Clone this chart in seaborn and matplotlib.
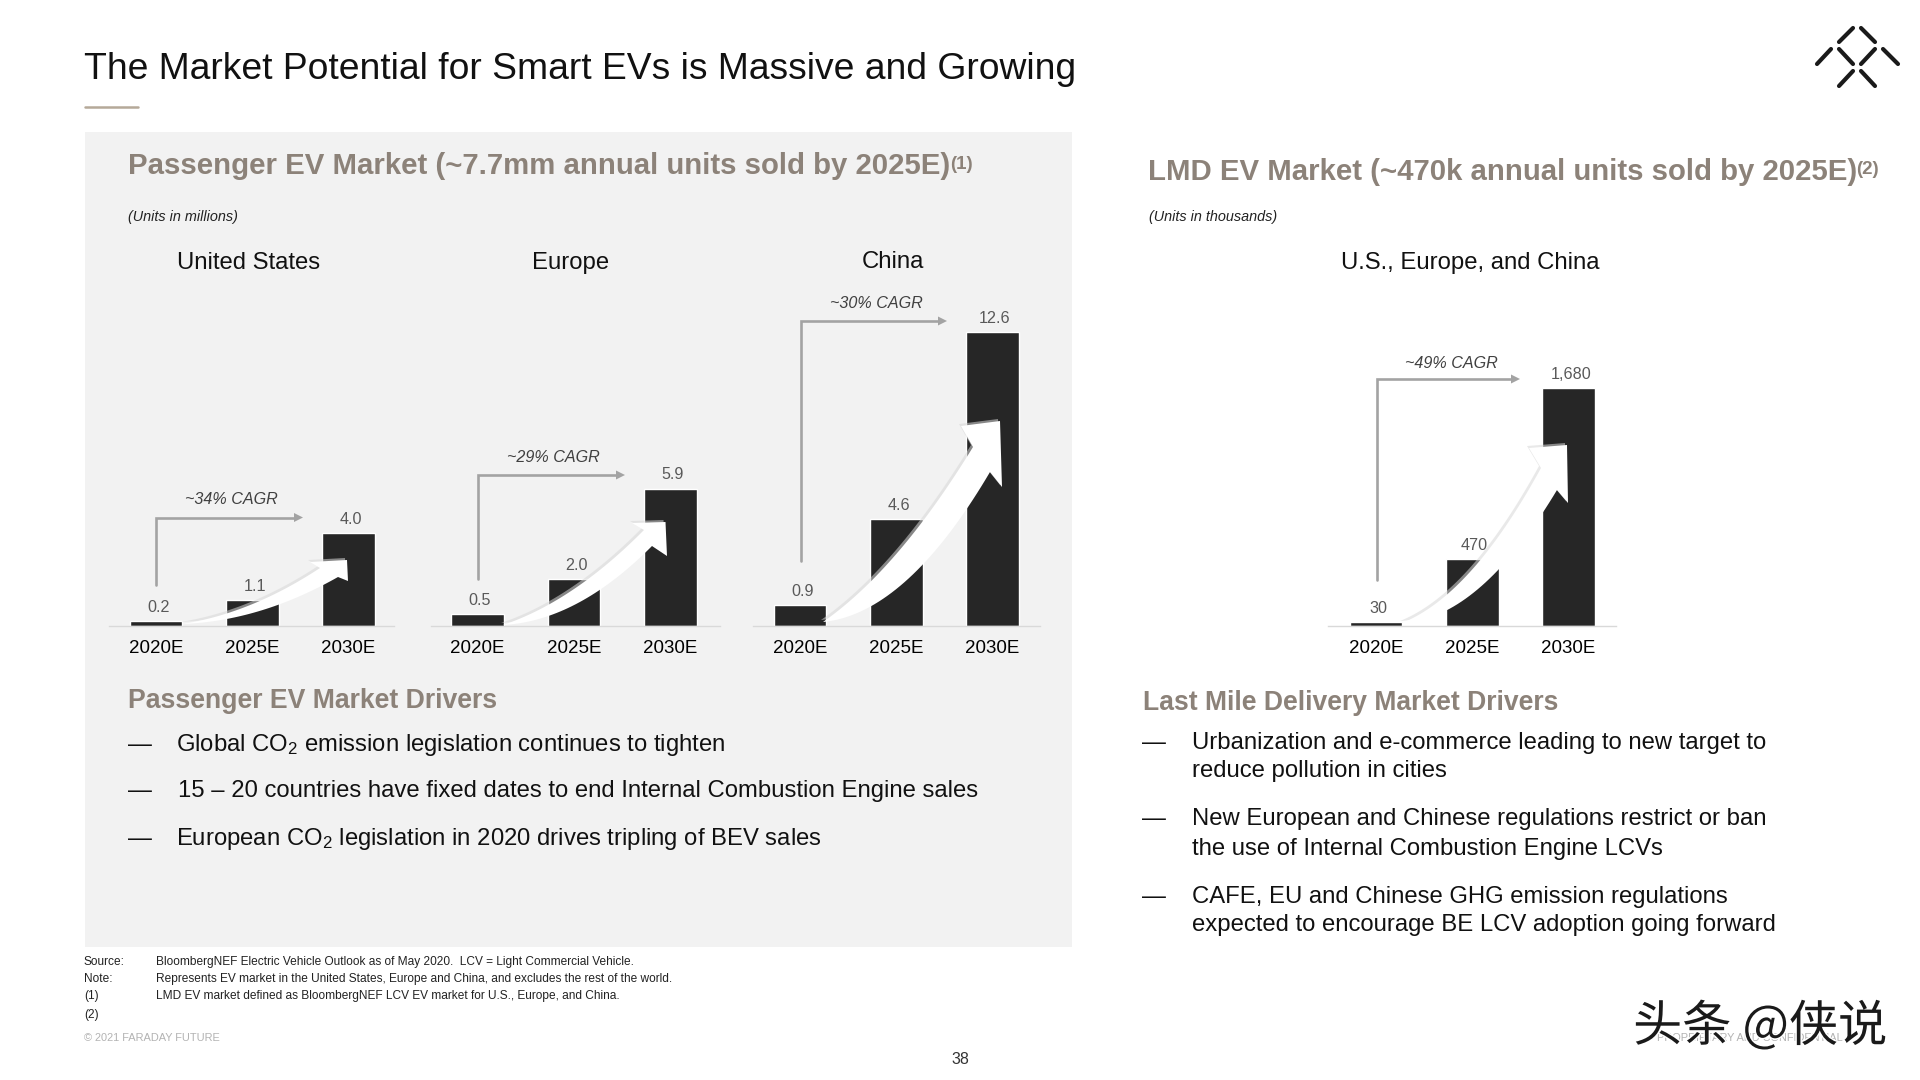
import numpy as np
import matplotlib
matplotlib.use('Agg')
import matplotlib.pyplot as plt
import matplotlib.patheffects as pe
import seaborn as sns

years = ['2020E', '2025E', '2030E']
us_values = [0.2, 1.1, 4.0]
europe_values = [0.5, 2.0, 5.9]
china_values = [0.9, 4.6, 12.6]
lmd_values = [30, 470, 1680]

us_labels = ['0.2', '1.1', '4.0']
europe_labels = ['0.5', '2.0', '5.9']
china_labels = ['0.9', '4.6', '12.6']
lmd_labels = ['30', '470', '1,680']

footnote_keys = ['Source:', 'Note:', '(1)', '(2)']
footnote_texts = [
    'BloombergNEF Electric Vehicle Outlook as of May 2020.  LCV = Light Commercial Vehicle.',
    'Represents EV market in the United States, Europe and China, and excludes the rest of the world.',
    'LMD EV market defined as BloombergNEF LCV EV market for U.S., Europe, and China.',
    '',
]

W, H = 1920, 1080
BASE = 626
STEP = 96.3
BAR = '#262626'
TAN = '#8c8279'
ARROW = '#a3a3a3'

sns.set_theme(style='white')
plt.rcParams['font.family'] = ['Liberation Sans', 'DejaVu Sans']
plt.rcParams['mathtext.fontset'] = 'custom'
plt.rcParams['mathtext.rm'] = 'Liberation Sans'
plt.rcParams['mathtext.it'] = 'Liberation Sans:italic'
plt.rcParams['mathtext.bf'] = 'Liberation Sans:bold'
plt.rcParams['mathtext.default'] = 'regular'

fig = plt.figure(figsize=(19.2, 10.8), dpi=100, facecolor='white')

# page level overlays in pixel coordinates
bg = fig.add_axes([0, 0, 1, 1], zorder=0)
fg = fig.add_axes([0, 0, 1, 1], zorder=3)
for a in (bg, fg):
    a.set_xlim(0, W)
    a.set_ylim(H, 0)
    a.axis('off')
fg.patch.set_alpha(0)

bg.fill_between([84.5, 1071.5], 132, 947, color='#f2f2f2', lw=0)


def bar_group(values, labels, x0, x1, first_center, unit_px):
    top = 300
    ax = fig.add_axes([x0 / W, 1 - BASE / H, (x1 - x0) / W, (BASE - top) / H], zorder=1)
    ax.patch.set_alpha(0)
    sns.barplot(x=years, y=values, color=BAR, saturation=1, width=0.55, ax=ax)
    ax.set_xlim((x0 - first_center) / STEP, (x1 - first_center) / STEP)
    ax.set_ylim(0, (BASE - top) / unit_px)
    ax.set_yticks([])
    ax.set_ylabel('')
    sns.despine(ax=ax, left=True)
    ax.spines['bottom'].set_color('#d9d9d9')
    ax.spines['bottom'].set_linewidth(1)
    ax.tick_params(axis='x', length=0, pad=10, labelsize=13.5, labelcolor='black')
    texts = ax.bar_label(ax.containers[0], labels=labels, padding=5, fontsize=11.6, color='#595959')
    for t in texts:
        t.xyann = (1.6, 4.5)
    return ax


bar_group(us_values, us_labels, 109, 394, 156, 23.3)
bar_group(europe_values, europe_labels, 431, 720, 477.7, 23.3)
bar_group(china_values, china_labels, 753, 1040, 800, 23.3)
bar_group(lmd_values, lmd_labels, 1328, 1616, 1376, 0.1415)


def elbow(x, y0, y1, x1):
    fg.plot([x, x, x1 - 8], [y0, y1, y1], color=ARROW, lw=1.9, solid_joinstyle='miter')
    fg.fill([x1 - 9, x1, x1 - 9], [y1 - 4.5, y1, y1 + 4.5], color=ARROW, lw=0)


elbow(156, 585, 517.5, 303)
elbow(478, 579, 475, 625)
elbow(801, 561, 321, 947)
elbow(1377, 580, 379, 1520)


def curve(p0, p1, fy, n=40):
    # quadratic curve that leaves p0 flat and rises towards p1
    p0, p1 = np.array(p0, float), np.array(p1, float)
    c = np.array([p0[0] + 0.5 * (p1[0] - p0[0]), p0[1] + fy * (p1[1] - p0[1])])
    t = np.linspace(0, 1, n)[:, None]
    return (1 - t) ** 2 * p0 + 2 * t * (1 - t) * c + t ** 2 * p1


def swoosh(tail, ul, un, tip, low, ln, fy_upper, fy_lower):
    upper = curve(tail, un, fy_upper)
    lower = curve(tail, ln, fy_lower)[::-1]
    pts = np.vstack([upper, [ul, tip, low], lower])
    fg.fill(pts[:, 0] - 2, pts[:, 1] - 2, color='#d8d8d8', alpha=0.55, lw=0)
    fg.fill(pts[:, 0], pts[:, 1], color='white', lw=0)


swoosh((182, 624), (310, 562), (320, 568), (347, 560), (348, 581), (338, 577), 0.19, 0.06)
swoosh((503, 625), (632, 523), (644, 530), (665.5, 522), (667, 556), (652, 546), 0.25, 0.05)
swoosh((823, 622), (961, 426), (973, 447), (1000, 421), (1002, 487), (990, 472), 0.30, 0.055)
swoosh((1402, 623), (1529, 448), (1541, 468), (1567, 445), (1568, 503), (1557, 490), 0.18, 0.03)

# headings
fg.text(84.5, 69.5, 'The Market Potential for Smart EVs is Massive and Growing',
        fontsize=26.8, va='center', color='#111111')
bg.plot([84.5, 138], [106.5, 106.5], color='#b5a999', lw=1.8)

fg.text(127.5, 166.5, 'Passenger EV Market (~7.7mm annual units sold by 2025E)',
        fontsize=21.2, fontweight='bold', color=TAN, va='center')
fg.text(950, 164.5, '(1)', fontsize=13.5, fontweight='bold', color=TAN, va='center')
fg.text(1147.5, 172, 'LMD EV Market (~470k annual units sold by 2025E)',
        fontsize=21.2, fontweight='bold', color=TAN, va='center')
fg.text(1856.5, 170, '(2)', fontsize=13.5, fontweight='bold', color=TAN, va='center')

fg.text(128, 217, '(Units in millions)', fontsize=10.4, style='italic', color='#222222', va='center')
fg.text(1149, 217, '(Units in thousands)', fontsize=10.4, style='italic', color='#222222', va='center')

for x, y, label in [(248.6, 263, 'United States'), (570.6, 263.5, 'Europe'),
                    (892.6, 262.5, 'China'), (1470.5, 263.5, 'U.S., Europe, and China')]:
    fg.text(x, y, label, fontsize=17.2, ha='center', va='center', color='#111111')

for x, y, label in [(231, 500, '~34% CAGR'), (553, 458, '~29% CAGR'),
                    (876, 304, '~30% CAGR'), (1451, 364, '~49% CAGR')]:
    fg.text(x, y, label, fontsize=11.6, style='italic', ha='center', va='center', color='#404040')

fg.text(127.5, 700.5, 'Passenger EV Market Drivers', fontsize=19.2, fontweight='bold', color=TAN, va='center')
fg.text(1143, 702.5, 'Last Mile Delivery Market Drivers', fontsize=19.1, fontweight='bold', color=TAN, va='center')

# bullets
left_bullets = [
    (745, 176, 'Global CO$_2$ emission legislation continues to tighten'),
    (791.5, 177.5, '15 – 20 countries have fixed dates to end Internal Combustion Engine sales'),
    (838.5, 176, 'European CO$_2$ legislation in 2020 drives tripling of BEV sales'),
]
for y, x, line in left_bullets:
    fg.text(127.5, y, '—', fontsize=17.2, va='center', color='#111111')
    fg.text(x, y, line, fontsize=17.2, va='center', color='#111111')

right_bullets = [
    (743.5, 'Urbanization and e-commerce leading to new target to', True),
    (771.5, 'reduce pollution in cities', False),
    (819.5, 'New European and Chinese regulations restrict or ban', True),
    (849, 'the use of Internal Combustion Engine LCVs', False),
    (896.5, 'CAFE, EU and Chinese GHG emission regulations', True),
    (925.5, 'expected to encourage BE LCV adoption going forward', False),
]
for y, line, dash in right_bullets:
    if dash:
        fg.text(1142.5, y, '—', fontsize=17.2, va='center', color='#111111')
    fg.text(1191.5, y, line, fontsize=17.2, va='center', color='#111111')

# footnotes
for y, key, note in zip([962, 979, 996.5, 1015], footnote_keys, footnote_texts):
    fg.text(84, y, key, fontsize=8.6, va='center', color='#222222')
    fg.text(155.5, y, note, fontsize=8.6, va='center', color='#222222')
fg.text(84, 1038, '© 2021 FARADAY FUTURE', fontsize=7.9, va='center', color='#b3b3b3')
fg.text(960, 1060, '38', fontsize=11.5, ha='center', va='center', color='#333333')
fg.text(1750, 1038, 'PROPRIETARY AND CONFIDENTIAL', fontsize=7.9, ha='center', va='center', color='#b3b3b3')

fg.text(1760, 1027, '头条 @侠说', fontsize=35.4, ha='center', va='center', color='#1a1a1a',
        family=['Noto Sans CJK SC', 'DejaVu Sans'],
        path_effects=[pe.withStroke(linewidth=2, foreground='white')])

# logo strokes
logo = [((1839, 42), (1853, 28)), ((1861, 28), (1875, 42)),
        ((1817, 64), (1831, 49)), ((1839, 49), (1853, 64)),
        ((1861, 64), (1875, 49)), ((1883, 49), (1898, 64)),
        ((1839, 86), (1853, 71)), ((1861, 71), (1875, 86))]
for a, b in logo:
    fg.plot([a[0], b[0]], [a[1], b[1]], color='#1a1a1a', lw=3, solid_capstyle='round')

fig.savefig('out.png', dpi=100)
